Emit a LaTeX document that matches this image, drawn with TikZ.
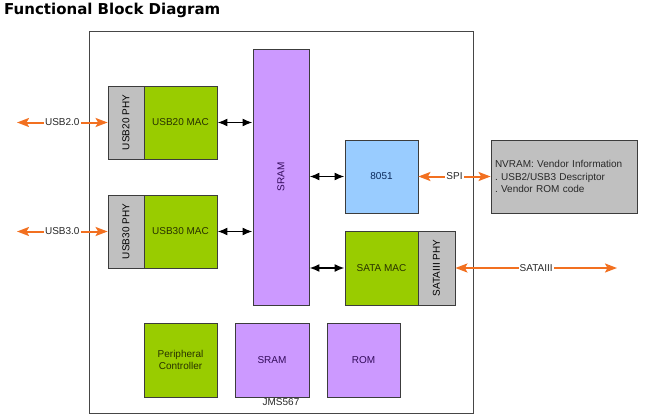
\documentclass[tikz,border=0pt]{standalone}
\usepackage{fontspec}
\setmainfont{Liberation Sans}
\newfontfamily\titlefont{DejaVu Sans}
\usetikzlibrary{arrows.meta}
\frenchspacing

\definecolor{macgreen}{RGB}{153,204,0}
\definecolor{phygrey}{RGB}{192,192,192}
\definecolor{mempurple}{RGB}{204,153,255}
\definecolor{cpublue}{RGB}{153,204,255}
\definecolor{sigorange}{RGB}{242,112,32}
\definecolor{edgegrey}{RGB}{60,60,60}

\tikzset{
  block/.style={draw=edgegrey, line width=0.8pt, inner sep=0pt,
    font=\fontsize{10}{12}\selectfont},
  mac/.style={block, fill=macgreen, text={rgb,255:red,40;green,50;blue,0}},
  phy/.style={block, fill=phygrey, text={rgb,255:red,40;green,40;blue,40},
    minimum width=36pt},
  mem/.style={block, fill=mempurple, text={rgb,255:red,50;green,10;blue,90}},
  cpu/.style={block, fill=cpublue, text={rgb,255:red,10;green,40;blue,90}},
  busarrow/.style={line width=1.8pt, {Latex[length=10pt,width=8pt]}-{Latex[length=10pt,width=8pt]}},
  sigarrow/.style={line width=2pt, draw=sigorange,
    {Stealth[length=12pt,width=9pt,inset=2.5pt]}-{Stealth[length=12pt,width=9pt,inset=2.5pt]}},
  siglabel/.style={fill=white, inner sep=1pt, text={rgb,255:red,40;green,40;blue,40},
    font=\fontsize{10}{12}\selectfont}
}

\begin{document}
\begin{tikzpicture}[x=1pt, y=-1pt]
\useasboundingbox (0,0) rectangle (645,420);

\node[anchor=base west, inner sep=0pt, font=\titlefont\bfseries\fontsize{15}{18}\selectfont] (title) at (4,15) {Functional Block Diagram};

\node[draw={rgb,255:red,70;green,70;blue,70}, line width=0.8pt, minimum width=384pt, minimum height=382pt] (chip) at (281,222) {};
\node[font=\fontsize{10}{12}\selectfont, text={rgb,255:red,40;green,40;blue,40}] (chipname) at (281,402) {JMS567};

\node[phy, minimum height=73pt, label={[rotate=90, font=\fontsize{10}{12}\selectfont]center:USB20 PHY}] (phy20) at (126,122.5) {};
\node[mac, minimum width=73pt, minimum height=73pt] (mac20) at (180.5,122.5) {USB20 MAC};
\node[phy, minimum height=73pt, label={[rotate=90, font=\fontsize{10}{12}\selectfont]center:USB30 PHY}] (phy30) at (126,231.5) {};
\node[mac, minimum width=73pt, minimum height=73pt] (mac30) at (180.5,231.5) {USB30 MAC};

\node[mem, minimum width=56pt, minimum height=256pt, label={[rotate=90, font=\fontsize{10}{12}\selectfont, text={rgb,255:red,50;green,10;blue,90}]center:SRAM}] (sram) at (281,177) {};

\node[cpu, minimum width=73pt, minimum height=73pt] (cpu) at (381.5,176.5) {8051};
\node[block, fill=phygrey, minimum width=146pt, minimum height=73pt, text width=138pt, align=left,
  font=\fontsize{10}{12.5}\selectfont, text={rgb,255:red,40;green,40;blue,40}] (nvram) at (564,176.5)
  {NVRAM: Vendor Information\\. USB2/USB3 Descriptor\\. Vendor ROM code};

\node[mac, minimum width=73pt, minimum height=74pt] (satamac) at (381.5,268) {SATA MAC};
\node[phy, minimum width=37pt, minimum height=74pt, label={[rotate=90, font=\fontsize{10}{12}\selectfont]center:SATAIII PHY}] (sataphy) at (436.5,268) {};

\node[mac, minimum width=73pt, minimum height=74pt, align=center] (periph) at (180.5,360) {Peripheral\\Controller};
\node[mem, minimum width=74pt, minimum height=74pt] (sram2) at (272,360) {SRAM};
\node[mem, minimum width=73pt, minimum height=74pt] (rom) at (363.5,360) {ROM};

\coordinate (usb2) at (17,122.5);
\coordinate (usb3) at (17,231.5);
\coordinate (sata) at (617,268);

\draw[busarrow] (mac20.east) -- (mac20.east -| sram.west);
\draw[busarrow] (mac30.east) -- (mac30.east -| sram.west);
\draw[busarrow] (cpu.west -| sram.east) -- (cpu.west);
\draw[busarrow] (satamac.west -| sram.east) -- (satamac.west);

\draw[sigarrow] (usb2) -- node[siglabel] {USB2.0} (phy20.west);
\draw[sigarrow] (usb3) -- node[siglabel] {USB3.0} (phy30.west);
\draw[sigarrow] (cpu.east) -- node[siglabel] {SPI} (nvram.west);
\draw[sigarrow] (sataphy.east) -- node[siglabel] {SATAIII} (sata);
\end{tikzpicture}
\end{document}
